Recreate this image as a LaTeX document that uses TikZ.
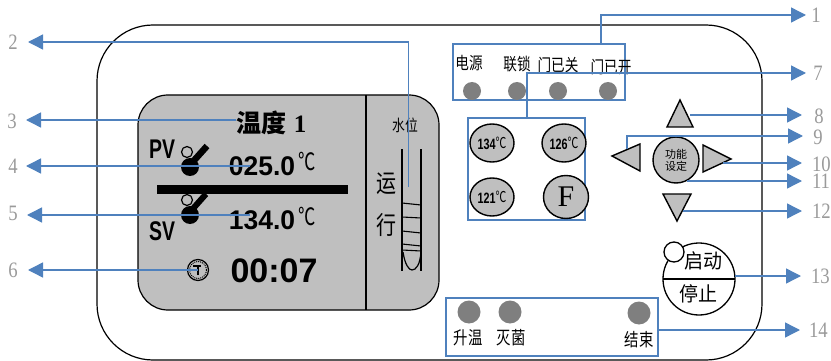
\documentclass[tikz,border=0pt]{standalone}
\usepackage{fontspec}
\setmainfont{Liberation Sans}
\newfontfamily\cjk{Noto Sans CJK SC}
\newfontfamily\ser{Liberation Serif}
\usetikzlibrary{arrows.meta,shapes.geometric,calc}
\newcommand{\fsz}[1]{\fontsize{#1}{#1}\selectfont}
\definecolor{lcd}{HTML}{BFBFBF}
\definecolor{lamp}{HTML}{7F7F7F}
\definecolor{lead}{HTML}{4F81BD}
\definecolor{num}{HTML}{9A9A9A}
\tikzset{
  every node/.style={inner sep=0pt,outer sep=0pt},
  ln/.style={draw=black,line width=1.2pt},
  lamp/.style={circle,fill=lamp,minimum size=#1},
  callbox/.style={draw=lead,line width=1.4pt,rectangle},
  leader/.style={draw=lead,line width=1.4pt,-{Triangle[length=15pt,width=15pt]}},
  numlab/.style={text=num,font=\ser\fsz{22},xscale=0.85},
  cjkt/.style={font=\cjk\fsz{#1},xscale=0.8},
  btn/.style={ellipse,draw=black,line width=1.4pt,fill=lcd,minimum width=44pt,minimum height=38pt},
  tri/.style={draw=black,line width=1.4pt,fill=lcd,line join=miter},
  big/.style={font=\bfseries\fsz{#1}},
}
\begin{document}
\begin{tikzpicture}[x=1pt,y=-1pt]
\useasboundingbox (0,0) rectangle (831,361);
% housing
\draw[ln,rounded corners=56pt] (97,360) -- (97,25) -- (762,25) -- (762,360) -- cycle;
% LCD
\draw[ln,fill=lcd,rounded corners=30pt] (138,95) rectangle (439,310);
\draw[ln] (366,95) -- (366,310);
\node[font=\cjk\bfseries\fsz{25}] (wd) at (261,123) {温度};
\node[font=\ser\bfseries\fsz{25}] (wdn) at (300,124) {1};
\node[big=27,xscale=0.72] (pv) at (162,149) {PV};
\node[big=27,xscale=0.72] (sv) at (162,231) {SV};
\node[big=27,xscale=0.98] (t1) at (262,166) {025.0};
\node[big=27,xscale=0.98] (t2) at (262,220) {134.0};
\node[font=\cjk\fsz{24},xscale=0.72] (d1) at (307,162) {℃};
\node[font=\cjk\fsz{24},xscale=0.72] (d2) at (307,216) {℃};
\node[big=34] (time) at (274,271) {00:07};
\fill (157,185) rectangle (348,194);
% gauge icons
\draw[line width=1.2pt] (187,152) circle (5.5);
\fill (190,167) circle (9);
\draw[line width=6.5pt] (190,165) -- (207,146);
\draw[line width=1.2pt] (187,200) circle (5.5);
\fill (190,215) circle (9);
\draw[line width=6pt] (190,212) -- (206,194);
% clock
\node[circle,draw=black,line width=1.2pt,minimum size=21pt,fill=lcd] (clock) at (198,270) {};
\draw[densely dotted,line width=1pt] (198,270) circle (8.5);
\draw[line width=1.1pt] (198,275) -- (198,265) (193,266) -- (201,266);
% level gauge
\node[cjkt=16] (sw) at (405,125) {水位};
\node[cjkt=25] (yun) at (386,184) {运};
\node[cjkt=25] (xing) at (386,225) {行};
\draw[line width=2pt] (402,149) -- (402,271);
\draw[line width=1.2pt] (421,149) -- (421,271);
\draw[line width=1.1pt] (402,203) -- (421,205) (402,217) -- (421,218) (402,231) -- (421,233) (402,244) -- (421,246) (402,250) -- (421,251);
\draw[line width=1.2pt] (403,252) .. controls (405,265) and (409,270) .. (412,270) .. controls (416,270) and (420,265) .. (421,252);
% indicator panel
\node[callbox,minimum width=172pt,minimum height=56pt] (boxA) at (539,72) {};
\node[cjkt=17] (l1) at (469,63) {电源};
\node[cjkt=17] (l2) at (517,64) {联锁};
\node[cjkt=17] (l3) at (558,65) {门已关};
\node[cjkt=17] (l4) at (611,67) {门已开};
\node[lamp=18pt] (p1) at (472,91) {};
\node[lamp=18pt] (p2) at (517,91) {};
\node[lamp=18pt] (p3) at (558,91) {};
\node[lamp=18pt] (p4) at (608,91) {};
% program panel
\node[callbox,minimum width=117pt,minimum height=102pt] (boxB) at (526.5,169) {};
\node[btn,font=\bfseries\fsz{15}] (b1) at (492,143) {\scalebox{.72}[1]{134\raisebox{1pt}{\cjk\mdseries ℃}}};
\node[btn,font=\bfseries\fsz{15}] (b2) at (564,143) {\scalebox{.72}[1]{126\raisebox{1pt}{\cjk\mdseries ℃}}};
\node[btn,font=\bfseries\fsz{15}] (b3) at (492,197) {\scalebox{.72}[1]{121\raisebox{1pt}{\cjk\mdseries ℃}}};
\node[btn,minimum width=45pt,minimum height=43pt,font=\ser\fsz{30}] (b4) at (566,197) {F};
% direction keys
\draw[tri] (680,100) -- (693,127) -- (667,127) -- cycle;
\draw[tri] (612,156) -- (640,144) -- (640,171) -- cycle;
\draw[tri] (703,145) -- (731,159) -- (703,172) -- cycle;
\draw[tri] (663,194) -- (691,194) -- (677,221) -- cycle;
\node[circle,draw=black,line width=1.4pt,fill=lcd,minimum size=46pt,font=\cjk\fsz{11},align=center] (fn) at (676,160) {功能\\[1pt]设定};
% start stop
\node[circle,draw=black,line width=1.3pt,minimum size=72pt] (start) at (699,279) {};
\draw[ln] (start.west) -- (start.east);
\node[circle,draw=black,line width=1.3pt,fill=white,minimum size=20pt] (dot) at (674,252) {};
\node[font=\cjk\fsz{20},xscale=0.95] (qd) at (703,261) {启动};
\node[font=\cjk\fsz{20},xscale=0.95] (tz) at (698,294) {停止};
% phase panel
\node[callbox,minimum width=212pt,minimum height=58pt] (boxC) at (552,327) {};
\node[lamp=23pt] (s1) at (469,312) {};
\node[lamp=23pt] (s2) at (510,312) {};
\node[lamp=23pt] (s3) at (639,313) {};
\node[cjkt=18] (t1l) at (468,338) {升温};
\node[cjkt=18] (t2l) at (511,338) {灭菌};
\node[cjkt=18] (t3l) at (639,340) {结束};
% number labels
\node[numlab] (n1) at (816,15) {1};
\node[numlab] (n2) at (13,42) {2};
\node[numlab] (n3) at (12,121) {3};
\node[numlab] (n4) at (13,166) {4};
\node[numlab] (n5) at (13,213) {5};
\node[numlab] (n6) at (13,270) {6};
\node[numlab] (n7) at (818,73) {7};
\node[numlab] (n8) at (819,116) {8};
\node[numlab] (n9) at (818,137) {9};
\node[numlab,anchor=west] (n10) at (812,164) {10};
\node[numlab,anchor=west] (n11) at (812,181) {11};
\node[numlab,anchor=west] (n12) at (812,211) {12};
\node[numlab,anchor=west] (n13) at (811,276) {13};
\node[numlab,anchor=west] (n14) at (809,330) {14};
% leader ends
\coordinate (e1) at (806,15);
\coordinate (e2) at (28,42);
\coordinate (e3) at (26,120);
\coordinate (e4) at (26,166);
\coordinate (e5) at (27,215);
\coordinate (e6) at (28,270);
\coordinate (e7) at (806,73);
\coordinate (e8) at (802,115);
\coordinate (e9) at (803,136);
\coordinate (e10) at (802,163);
\coordinate (e11) at (802,181);
\coordinate (e12) at (802,211);
\coordinate (e13) at (801,276);
\coordinate (e14) at (800,330);
\coordinate (g2) at (408.5,187);
\coordinate (a1) at (601,15);
\coordinate (a2) at (408.5,42);
\coordinate (a7) at (527,73);
\coordinate (a9) at (627,136);
\coordinate (f9) at (627,149);
% leaders
\draw[leader] (a1 |- boxA.north) -- (a1) -- (e1);
\draw[leader] (g2) -- (a2) -- (e2);
\draw[leader] (wd.west |- e3) -- (e3);
\draw[leader] (250,166) -- (e4);
\draw[leader] (250,215) -- (e5);
\draw[leader] (clock.center) -- (e6);
\draw[leader] (a7 |- boxB.north) -- (a7) -- (e7);
\draw[leader] (690,115) -- (e8);
\draw[leader] (f9) -- (a9) -- (e9);
\draw[leader] (723,163) -- (e10);
\draw[leader] (687,181) -- (e11);
\draw[leader] (683,211) -- (e12);
\draw[leader] (start.east |- e13) -- (e13);
\draw[leader] (boxC.east |- e14) -- (e14);
\end{tikzpicture}
\end{document}
